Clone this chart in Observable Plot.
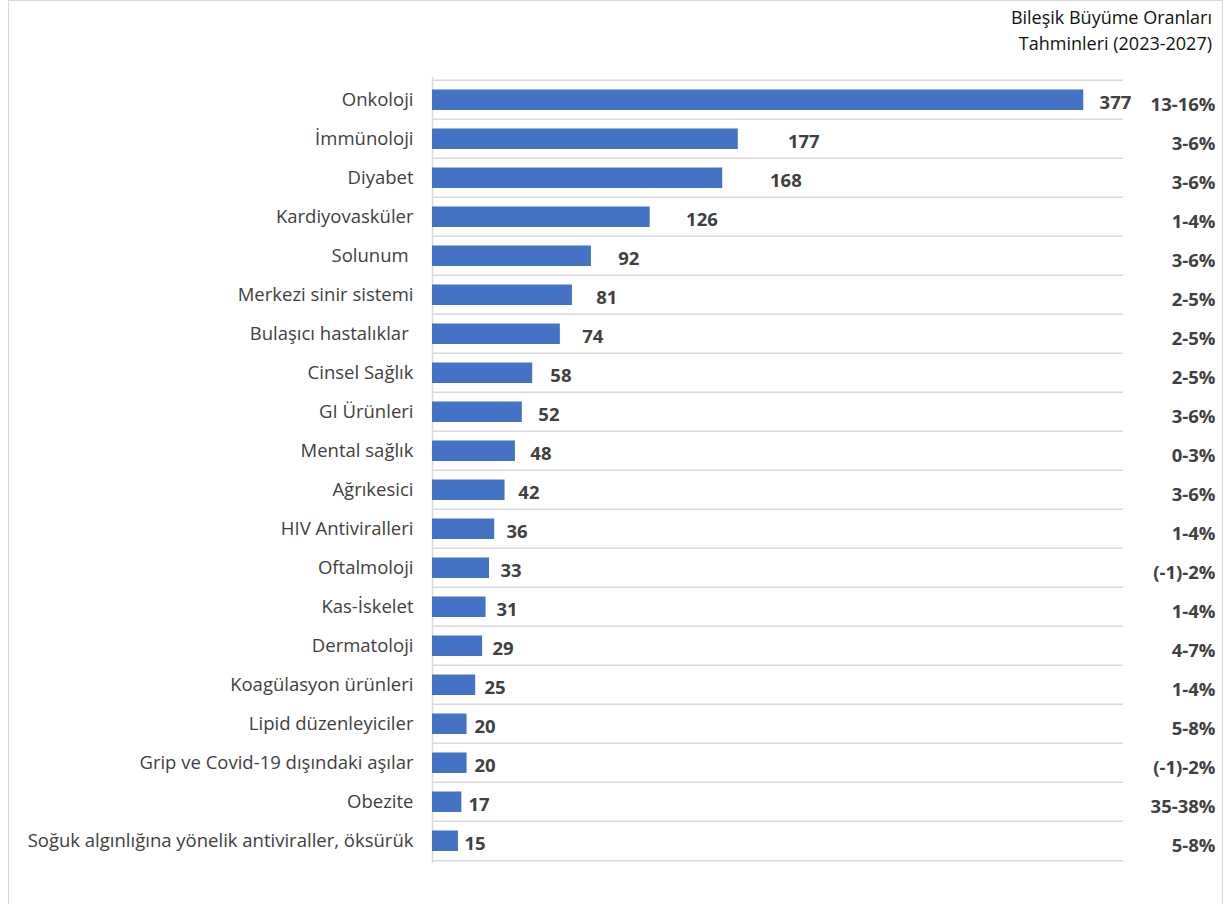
<!DOCTYPE html>
<html><head><meta charset="utf-8">
<script src="https://cdn.jsdelivr.net/npm/d3@7"></script>
<script src="https://cdn.jsdelivr.net/npm/@observablehq/plot@0.6"></script>
<style>
body{margin:0;background:#fff;}
#wrap{position:relative;width:1227px;height:904px;overflow:hidden;background:#fff;}
#border{position:absolute;left:8px;top:0;width:1215px;height:930px;border:1px solid #d9d9d9;box-sizing:border-box;}
#title{position:absolute;right:15px;top:4px;text-align:right;font-family:"Open Sans",sans-serif;font-size:18px;line-height:26px;color:#111;}
#chart{position:absolute;left:0;top:0;}
</style></head><body>
<div id="wrap">
<div id="border"></div>
<div id="chart"></div>
<div id="title">Bileşik Büyüme Oranları<br>Tahminleri (2023-2027)</div>
</div>
<script>
const categories = ["Onkoloji","İmmünoloji","Diyabet","Kardiyovasküler","Solunum ","Merkezi sinir sistemi","Bulaşıcı hastalıklar ","Cinsel Sağlık","GI Ürünleri","Mental sağlık","Ağrıkesici","HIV Antiviralleri","Oftalmoloji","Kas-İskelet","Dermatoloji","Koagülasyon ürünleri","Lipid düzenleyiciler","Grip ve Covid-19 dışındaki aşılar","Obezite","Soğuk algınlığına yönelik antiviraller, öksürük"];
const values = [377,177,168,126,92,81,74,58,52,48,42,36,33,31,29,25,20,20,17,15];
const growth = ["13-16%","3-6%","3-6%","1-4%","3-6%","2-5%","2-5%","2-5%","3-6%","0-3%","3-6%","1-4%","(-1)-2%","1-4%","4-7%","1-4%","5-8%","(-1)-2%","35-38%","5-8%"];

const data = categories.map((c, i) => ({category: c, value: values[i], growth: growth[i]}));

const W = 1227, H = 904, mTop = 77, mBottom = 41, mLeft = 432, mRight = 104;
const step = (H - mTop - mBottom) / categories.length;
const grid = "#d9d9d9";

const chart = Plot.plot({
  width: W, height: H,
  marginTop: mTop, marginBottom: mBottom, marginLeft: mLeft, marginRight: mRight,
  style: {fontFamily: "'Open Sans', sans-serif", fontSize: "18.5px", color: "#404040", background: "transparent", overflow: "visible"},
  x: {domain: [0, 400], axis: null},
  y: {domain: categories, padding: 0, label: null, tickSize: 0, tickPadding: 19},
  marks: [
    Plot.ruleY(categories, {y: d => d, dy: -step / 2, stroke: grid, strokeWidth: 1.5}),
    Plot.ruleY([categories[categories.length - 1]], {y: d => d, dy: step / 2, stroke: grid, strokeWidth: 1.5}),
    Plot.ruleX([0], {stroke: grid, strokeWidth: 1.5}),
    Plot.barX(data, {x: "value", y: "category", fill: "#4472c4", insetTop: 9.5, insetBottom: 9}),
    Plot.text(data, {x: d => Math.min(d.value * 1.156, 385), y: "category", text: d => String(d.value), textAnchor: "start", dx: 2, dy: 3, fontWeight: "bold", fontSize: 18.5, fill: "#404040"}),
    Plot.text(data, {y: "category", text: "growth", frameAnchor: "right", textAnchor: "end", dx: 92, dy: 5, fontWeight: "bold", fontSize: 18.5, fill: "#404040"})
  ]
});
document.getElementById("chart").appendChild(chart);
</script>
</body></html>
